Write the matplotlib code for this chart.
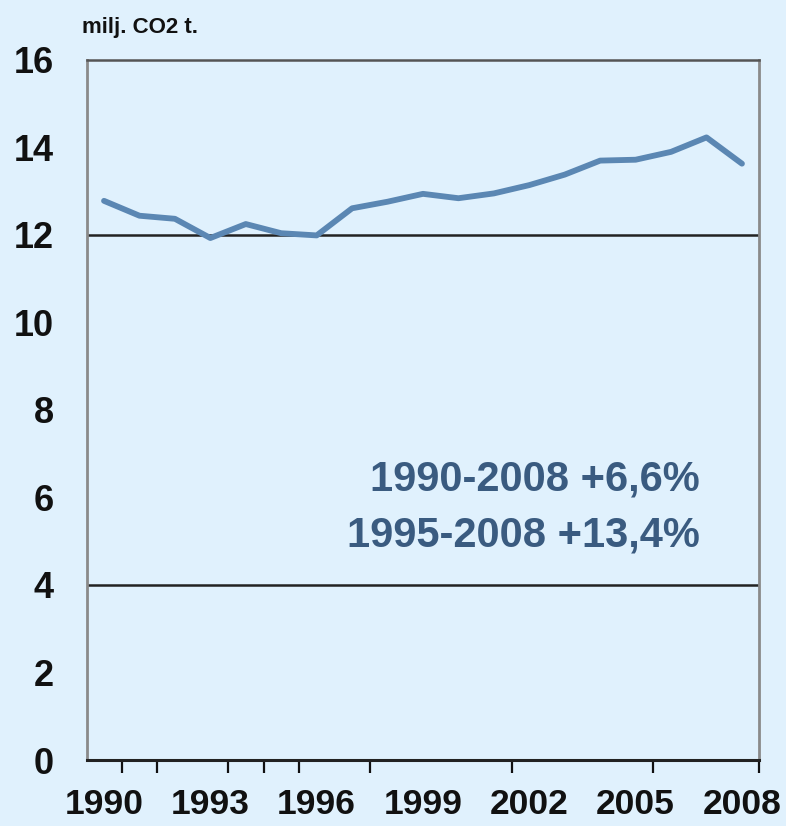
import matplotlib
matplotlib.use('Agg')
import matplotlib.pyplot as plt

# CO2 emissions, milj. t
years = [1990, 1991, 1992, 1993, 1994, 1995, 1996, 1997, 1998, 1999,
         2000, 2001, 2002, 2003, 2004, 2005, 2006, 2007, 2008]
co2 = [12.78, 12.44, 12.37, 11.93, 12.25, 12.04, 11.99, 12.61, 12.76, 12.94,
       12.84, 12.95, 13.14, 13.38, 13.70, 13.72, 13.90, 14.23, 13.63]

label_years = [1990, 1993, 1996, 1999, 2002, 2005, 2008]
y_labels = [0, 2, 4, 6, 8, 10, 12, 14, 16]
grid_levels = [4, 12]
notes = ['1990-2008 +6,6%', '1995-2008 +13,4%']

bg = '#e0f1fd'
plt.rcParams['font.family'] = ['Liberation Sans', 'DejaVu Sans']

fig = plt.figure(figsize=(7.86, 8.26), dpi=100, facecolor=bg)
ax = fig.add_axes([0.1107, 0.0799, 0.8549, 0.8475], facecolor=bg)

for lv in grid_levels:
    ax.axhline(lv, color='#222222', lw=1.8, zorder=1)

ax.plot(years, co2, color='#5b87b3', lw=4.2, solid_joinstyle='round',
        solid_capstyle='round', zorder=3)

ax.set_xlim(1989.52, 2008.48)
ax.set_ylim(0, 16)

# labels without marks, marks on minor ticks (odd excel-style positions)
ax.set_xticks(label_years)
ax.set_xticklabels([str(y) for y in label_years])
ax.set_xticks([1990.5, 1991.5, 1993.5, 1994.5, 1995.5, 1997.5, 2001.5,
               2005.5, 2008.48], minor=True)
ax.tick_params(axis='x', which='major', length=0, pad=20, labelsize=25.5)
ax.tick_params(axis='x', which='minor', length=9, width=1.6, color='#111111')

ax.set_yticks(y_labels)
ax.set_yticks([0, 4, 12, 16], minor=True)
ax.tick_params(axis='y', which='major', length=0, pad=24, labelsize=26)
ax.tick_params(axis='y', which='minor', length=9.5, width=1.6, color='#222222')

for lab in ax.get_xticklabels() + ax.get_yticklabels():
    lab.set_fontweight('bold')
    lab.set_color('#111111')

ax.spines['left'].set_color('#8a8a8a')
ax.spines['left'].set_linewidth(2)
ax.spines['right'].set_color('#8a8a8a')
ax.spines['right'].set_linewidth(2)
ax.spines['top'].set_color('#555555')
ax.spines['top'].set_linewidth(1.8)
ax.spines['bottom'].set_color('#222222')
ax.spines['bottom'].set_linewidth(2.2)

ax.text(2006.82, 6.42, notes[0], ha='right', va='center', fontsize=30,
        fontweight='bold', color='#3a5b80')
ax.text(2006.82, 5.12, notes[1], ha='right', va='center', fontsize=30,
        fontweight='bold', color='#3a5b80')

fig.text(82 / 786, 1 - 27 / 826, 'milj. CO2 t.', ha='left', va='center',
         fontsize=16, fontweight='bold', color='#111111')

fig.savefig('out.png', dpi=100, facecolor=bg)
